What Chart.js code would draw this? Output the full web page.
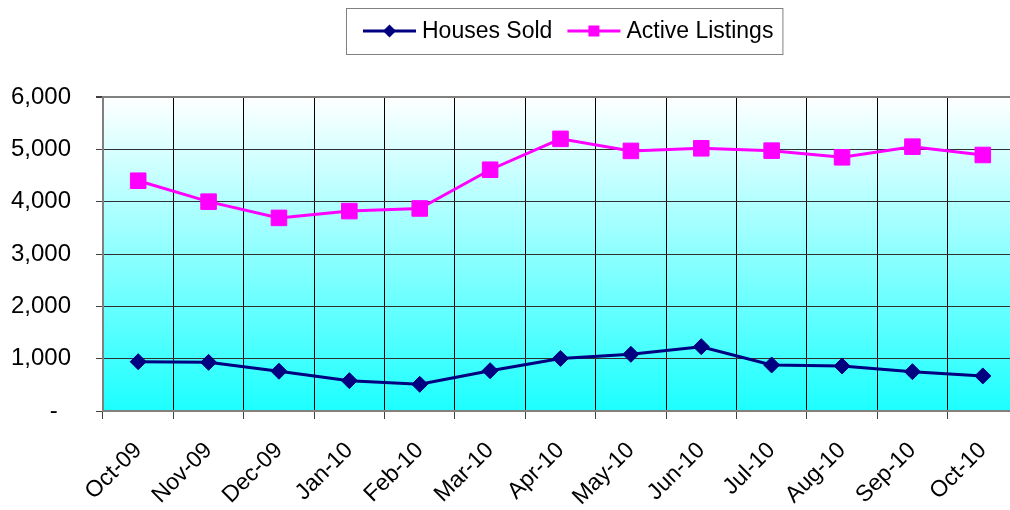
<!DOCTYPE html>
<html>
<head>
<meta charset="utf-8">
<script src="https://cdn.jsdelivr.net/npm/chart.js@4"></script>
<style>
  html, body { margin: 0; padding: 0; overflow: hidden; background: #fff; }
  #chart { display: block; }
</style>
</head>
<body>
<canvas id="chart" width="1030" height="510"></canvas>
<script>
const months = [
  "Oct-09", "Nov-09", "Dec-09", "Jan-10", "Feb-10", "Mar-10", "Apr-10",
  "May-10", "Jun-10", "Jul-10", "Aug-10", "Sep-10", "Oct-10",
];
const housesSold = [942, 930, 760, 580, 510, 770, 1005, 1083, 1229, 879, 860, 751, 670];
const activeListings = [4400, 4000, 3690, 3820, 3870, 4610, 5200, 4970, 5020, 4975, 4848, 5051, 4892];
const yTicks = [0, 1000, 2000, 3000, 4000, 5000, 6000];

const FONT = "'Liberation Sans', Arial, sans-serif";

const plotBg = {
  id: "plotBg",
  beforeDraw(chart) {
    const { ctx, chartArea: a } = chart;
    const g = ctx.createLinearGradient(0, a.top, 0, a.bottom);
    g.addColorStop(0, "#ffffff");
    g.addColorStop(1, "#1cffff");
    ctx.save();
    ctx.fillStyle = g;
    ctx.fillRect(a.left, a.top, a.right - a.left, a.bottom - a.top);
    ctx.restore();
  },
};

// legend drawn by hand: line + marker like the original
const lineLegend = {
  id: "lineLegend",
  afterDraw(chart) {
    const ctx = chart.ctx;
    const left = 346, top = 8, h = 46, mid = top + h / 2;
    ctx.save();
    ctx.font = "23px " + FONT;
    let x = left + 17;
    const items = [];
    chart.data.datasets.forEach((ds) => {
      items.push({ ds, x });
      x += 53 + 6 + ctx.measureText(ds.label).width + 15;
    });
    const right = x - 15 + 9;
    ctx.fillStyle = "#fff";
    ctx.fillRect(left, top, right - left, h);
    ctx.strokeStyle = "#808080";
    ctx.lineWidth = 1;
    ctx.strokeRect(left + 0.5, top + 0.5, right - left, h);
    items.forEach(({ ds, x }) => {
      ctx.strokeStyle = ds.borderColor;
      ctx.lineWidth = 3;
      ctx.beginPath();
      ctx.moveTo(x, mid);
      ctx.lineTo(x + 53, mid);
      ctx.stroke();
      ctx.fillStyle = ds.borderColor;
      const cx = x + 26.5;
      ctx.beginPath();
      if (ds.pointStyle === "rectRot") {
        ctx.moveTo(cx - 6.5, mid);
        ctx.lineTo(cx, mid - 6.5);
        ctx.lineTo(cx + 6.5, mid);
        ctx.lineTo(cx, mid + 6.5);
      } else {
        ctx.rect(cx - 5.5, mid - 5.5, 11, 11);
      }
      ctx.closePath();
      ctx.fill();
      ctx.fillStyle = "#000";
      ctx.textBaseline = "middle";
      ctx.fillText(ds.label, x + 59, mid + 1);
    });
    ctx.restore();
  },
};

new Chart(document.getElementById("chart"), {
  type: "line",
  data: {
    labels: months,
    datasets: [
      {
        label: "Houses Sold",
        data: housesSold,
        borderColor: "#000080",
        backgroundColor: "#000080",
        borderWidth: 3,
        pointStyle: "rectRot",
        pointRadius: 8,
        pointBorderWidth: 1,
        tension: 0,
      },
      {
        label: "Active Listings",
        data: activeListings,
        borderColor: "#ff00ff",
        backgroundColor: "#ff00ff",
        borderWidth: 3,
        pointStyle: "rect",
        pointRadius: 11,
        pointBorderWidth: 1,
        tension: 0,
      },
    ],
  },
  options: {
    responsive: false,
    animation: false,
    layout: { padding: { top: 97, right: 9, left: 0, bottom: 0 } },
    plugins: {
      legend: { display: false },
      tooltip: { enabled: false },
    },
    scales: {
      x: {
        offset: true,
        grid: {
          offset: true,
          color: "#000",
          lineWidth: 1,
          tickLength: 8,
          tickColor: "#404040",
        },
        border: { color: "#808080", width: 2 },
        ticks: {
          color: "#000",
          font: { family: FONT, size: 23 },
          minRotation: 45,
          maxRotation: 45,
          padding: 18,
        },
        afterFit(scale) { scale.height = 99; },
      },
      y: {
        min: 0,
        max: 6000,
        afterBuildTicks(scale) {
          scale.ticks = yTicks.map((v) => ({ value: v }));
        },
        grid: {
          color: (c) => (c.tick && c.tick.value === 6000 ? "#808080" : "#303030"),
          lineWidth: (c) => (c.tick && c.tick.value === 6000 ? 2 : 1),
          tickLength: 7,
          tickColor: "#404040",
        },
        border: { color: "#808080", width: 2 },
        ticks: {
          color: "#000",
          font: { family: FONT, size: 24 },
          padding: 25,
          callback: (v) => (v === 0 ? "-  " : v.toLocaleString("en-US")),
        },
        afterFit(scale) { scale.width = 103; },
      },
    },
  },
  plugins: [plotBg, lineLegend],
});
</script>
</body>
</html>
